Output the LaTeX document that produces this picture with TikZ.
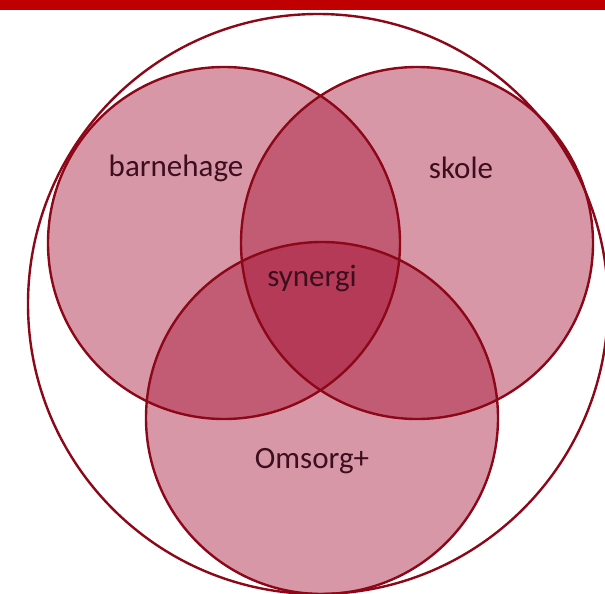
\documentclass[tikz,border=0pt]{standalone}
\usepackage{fontspec}
\setmainfont{Carlito}
\definecolor{barred}{RGB}{192,0,0}
\definecolor{edgered}{RGB}{140,8,24}
\definecolor{vennfill}{RGB}{166,15,51}
\definecolor{txt}{RGB}{60,14,30}
\tikzset{
  venn/.style={fill=vennfill, fill opacity=0.43},
  ring/.style={draw=edgered, line width=2.4pt},
  lbl/.style={text=txt, font=\fontsize{31}{37}\selectfont, inner sep=0pt}
}
\begin{document}
\begin{tikzpicture}[x=1pt,y=-1pt]
\useasboundingbox (0,0) rectangle (605,594);
\clip (0,0) rectangle (605,594);
\fill[white] (0,0) rectangle (605,594);
\fill[barred] (0,0) rectangle (605,10) node[coordinate] (bar) {};
% circle centres
\coordinate (cA) at (224,243);
\coordinate (cB) at (417,243);
\coordinate (cC) at (322,418);
\coordinate (cO) at (318,304);
% fills
\fill[venn] (cA) circle[radius=176];
\fill[venn] (cB) circle[radius=176];
\fill[venn] (cC) circle[radius=176];
% outlines
\draw[ring] (cO) circle[radius=290];
\draw[ring] (cA) circle[radius=176];
\draw[ring] (cB) circle[radius=176];
\draw[ring] (cC) circle[radius=176];
% labels
\node[lbl] (barnehage) at (176,168) {barnehage};
\node[lbl] (skole) at (461,168) {skole};
\node[lbl] (synergi) at (312,278) {synergi};
\node[lbl] (omsorg) at (312,461) {Omsorg+};
\end{tikzpicture}
\end{document}
